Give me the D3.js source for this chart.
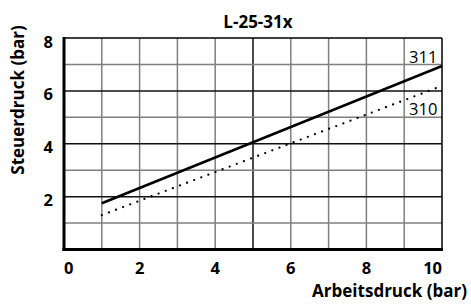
<!DOCTYPE html>
<html>
  <head>
    <meta charset="utf-8">
    <script src="https://d3js.org/d3.v7.min.js"></script>
    <style>
      body { margin: 0px; background: #fff; }
      text { font-family: "Open Sans", sans-serif; fill: #000; }
    </style>
  </head>
  <body>
    <svg width="471" height="305"></svg>
    <script>
      const chartTitle = 'L-25-31x';
      const xTitle = 'Arbeitsdruck (bar)';
      const yTitle = 'Steuerdruck (bar)';
      const xTicks = [0, 2, 4, 6, 8, 10];
      const yTicks = [2, 4, 6, 8];
      const xGrid = [1, 2, 3, 4, 5, 6, 7, 8, 9];
      const yGrid = [1, 2, 3, 4, 5, 6, 7];
      const series311 = [[1, 1.75], [10, 6.94]];
      const series310 = [[1, 1.30], [10, 6.19]];
      const labels = [
        { name: '311', x: 9.13, y: 7.05 },
        { name: '310', x: 9.13, y: 5.09 }
      ];

      const margin = { left: 64, right: 29, top: 38, bottom: 55.5 };
      const svg = d3.select('svg');
      const width = +svg.attr('width');
      const height = +svg.attr('height');
      const innerWidth = width - margin.left - margin.right;
      const innerHeight = height - margin.top - margin.bottom;

      const g = svg.append('g')
          .attr('transform', `translate(${margin.left}, ${margin.top})`);

      const xScale = d3.scaleLinear().domain([0, 10]).range([0, innerWidth]);
      const yScale = d3.scaleLinear().domain([0, 8]).range([innerHeight, 0]);

      // grid
      g.selectAll('.vgrid').data(xGrid)
        .enter().append('line')
          .attr('x1', d => xScale(d)).attr('x2', d => xScale(d))
          .attr('y1', 0).attr('y2', innerHeight)
          .attr('stroke', d => d === 5 ? '#111' : '#7f7f7f')
          .attr('stroke-width', 1.5);

      g.selectAll('.hgrid').data(yGrid)
        .enter().append('line')
          .attr('y1', d => yScale(d)).attr('y2', d => yScale(d))
          .attr('x1', 0).attr('x2', innerWidth)
          .attr('stroke', d => d % 2 === 0 ? '#111' : '#7f7f7f')
          .attr('stroke-width', 1.5);

      // frame: thin top/right, thick left/bottom
      g.append('line').attr('x1', 0).attr('x2', innerWidth).attr('y1', 0).attr('y2', 0)
        .attr('stroke', '#000').attr('stroke-width', 1.5);
      g.append('line').attr('x1', innerWidth).attr('x2', innerWidth).attr('y1', 0).attr('y2', innerHeight)
        .attr('stroke', '#000').attr('stroke-width', 1.5);
      g.append('line').attr('x1', 0).attr('x2', 0).attr('y1', -1).attr('y2', innerHeight + 1.5)
        .attr('stroke', '#000').attr('stroke-width', 3);
      g.append('line').attr('x1', -1.5).attr('x2', innerWidth + 1).attr('y1', innerHeight).attr('y2', innerHeight)
        .attr('stroke', '#000').attr('stroke-width', 3);

      // series
      const line = d3.line().x(d => xScale(d[0])).y(d => yScale(d[1]));
      g.append('path').datum(series311)
        .attr('d', line)
        .attr('fill', 'none')
        .attr('stroke', '#000')
        .attr('stroke-width', 2.5);
      g.append('path').datum(series310)
        .attr('d', line)
        .attr('fill', 'none')
        .attr('stroke', '#000')
        .attr('stroke-width', 2.3)
        .attr('stroke-linecap', 'round')
        .attr('stroke-dasharray', '0 7.6');

      g.selectAll('.lbl').data(labels)
        .enter().append('text')
          .attr('x', d => xScale(d.x))
          .attr('y', d => yScale(d.y))
          .attr('font-size', '16.5px')
          .text(d => d.name);

      // tick labels
      g.selectAll('.xt').data(xTicks)
        .enter().append('text')
          .attr('x', d => xScale(d))
          .attr('y', innerHeight + 24)
          .attr('font-size', '16.5px')
          .attr('font-weight', 'bold')
          .style('text-anchor', d => d === 0 ? 'start' : (d === 10 ? 'end' : 'middle'))
          .text(d => d);

      g.selectAll('.yt').data(yTicks)
        .enter().append('text')
          .attr('x', -11)
          .attr('y', d => yScale(d) + 9.5)
          .attr('font-size', '16.5px')
          .attr('font-weight', 'bold')
          .style('text-anchor', 'end')
          .text(d => d);

      // titles
      svg.append('text')
        .attr('x', margin.left + innerWidth / 2 + 5)
        .attr('y', 28)
        .attr('font-size', '17px')
        .attr('font-weight', 'bold')
        .style('text-anchor', 'middle')
        .text(chartTitle);

      svg.append('text')
        .attr('x', 467)
        .attr('y', 297)
        .attr('font-size', '17px')
        .attr('font-weight', 'bold')
        .style('text-anchor', 'end')
        .text(xTitle);

      svg.append('text')
        .attr('transform', 'translate(24, 100) rotate(-90)')
        .attr('font-size', '17px')
        .attr('font-weight', 'bold')
        .style('text-anchor', 'middle')
        .text(yTitle);
    </script>
  </body>
</html>
